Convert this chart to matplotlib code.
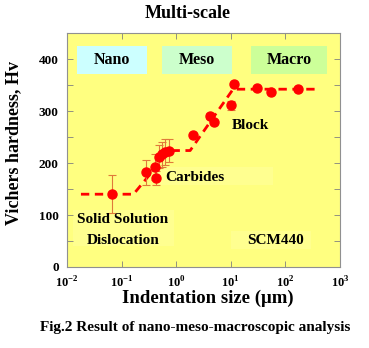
import matplotlib
matplotlib.use("Agg")
import matplotlib.pyplot as plt
from matplotlib.patches import Rectangle

plt.rcParams['font.family'] = ['Liberation Serif', 'DejaVu Serif']
plt.rcParams['font.weight'] = 'bold'
plt.rcParams['mathtext.fontset'] = 'custom'
plt.rcParams['mathtext.rm'] = 'Liberation Serif:bold'
plt.rcParams['mathtext.bf'] = 'Liberation Serif:bold'

# measured points (indentation size in um, hardness Hv, error bar half-length)
size = [0.066, 0.276, 0.41, 0.42, 0.49, 0.54, 0.62, 0.74, 2.0, 4.1, 5.0, 10.2, 11.6, 30, 54, 172]
hv = [140, 182, 193, 171, 212, 217, 221, 224, 253, 291, 278, 311, 352, 344, 337, 342]
err = [36, 24, 25, 14, 22, 24, 25, 22, 0, 6, 0, 9, 0, 0, 0, 0]

# trend line (dashed)
trend_x = [0.018, 0.165, 0.76, 1.8, 11.0, 420]
trend_y = [140, 140, 224, 224, 342, 342]

# scale boxes
scales = ['Nano', 'Meso', 'Macro']
scale_x0 = [0.0151, 0.54, 23]
scale_x1 = [0.295, 10.7, 590]
scale_colors = ['#ccffff', '#ccffcc', '#ccff99']

xticks = [1e-2, 1e-1, 1e0, 1e1, 1e2, 1e3]
xtick_labels = [r'$10^{-2}$', r'$10^{-1}$', r'$10^{0}$', r'$10^{1}$', r'$10^{2}$', r'$10^{3}$']
yticks = [0, 100, 200, 300, 400]
yticks_minor = [50, 150, 250, 350]

fig = plt.figure(figsize=(3.69, 3.48), dpi=100)
fig.patch.set_facecolor('white')
ax = fig.add_axes([0.1816, 0.2328, 0.7398, 0.6722])
ax.set_facecolor('#ffff80')

ax.set_xscale('log')
ax.set_xlim(1e-2, 1e3)
ax.set_ylim(0, 450)

# faint panels behind labels
for x0, x1, y0, y1 in [(0.45, 60, 158, 192), (0.013, 0.9, 40, 110), (10, 300, 35, 70)]:
    ax.add_patch(Rectangle((x0, y0), x1 - x0, y1 - y0, facecolor='#ffff90',
                           edgecolor='none', zorder=0.5))

for name, x0, x1, c in zip(scales, scale_x0, scale_x1, scale_colors):
    ax.add_patch(Rectangle((x0, 371), x1 - x0, 55, facecolor=c, edgecolor='none', zorder=1))
    ax.text((x0 * x1) ** 0.5, 399, name, ha='center', va='center', fontsize=11.5,
            fontweight='bold', zorder=2)

ax.plot(trend_x, trend_y, color='#ff0000', lw=2, ls=(0, (3, 2)), zorder=3)
ax.errorbar(size, hv, yerr=err, fmt='none',
            ecolor='#e07a3a', elinewidth=0.8, capsize=3, capthick=0.8, zorder=3)
ax.plot(size, hv, 'o', color='#ff0000', ms=6.5, zorder=4)

ax.text(10.5, 273, 'Block', fontsize=11, fontweight='bold', va='center')
ax.text(0.62, 173, 'Carbides', fontsize=11, fontweight='bold', va='center')
ax.text(0.0155, 92, 'Solid Solution', fontsize=11, fontweight='bold', va='center')
ax.text(0.0232, 51, 'Dislocation', fontsize=11, fontweight='bold', va='center')
ax.text(20, 50, 'SCM440', fontsize=11, fontweight='bold', va='center')

ax.set_xticks(xticks)
ax.set_xticklabels(xtick_labels, fontsize=9)
ax.minorticks_off()
ax.set_yticks(yticks)
ax.set_yticks(yticks_minor, minor=True)
ax.set_yticklabels([str(v) for v in yticks], fontsize=9.5, fontweight='bold')
ax.tick_params(which='both', direction='in', top=True, right=True, length=4, width=0.6,
               color='#808080', pad=6)
for s in ax.spines.values():
    s.set_color('#909090')
    s.set_linewidth(0.8)

fig.text(188 / 369, 1 - 13 / 348, 'Multi-scale', ha='center', va='center',
         fontsize=13, fontweight='bold')
fig.text(208 / 369, 1 - 298 / 348, 'Indentation size (\u03bcm)', ha='center', va='center',
         fontsize=13.5, fontweight='bold')
fig.text(14 / 369, 1 - 143 / 348, 'Vichers hardness, Hv', rotation=90, ha='center',
         va='center', fontsize=13, fontweight='bold')
fig.text(195 / 369, 1 - 328 / 348, 'Fig.2 Result of nano-meso-macroscopic analysis',
         ha='center', va='center', fontsize=11, fontweight='bold')

fig.savefig('out.png', dpi=100)
